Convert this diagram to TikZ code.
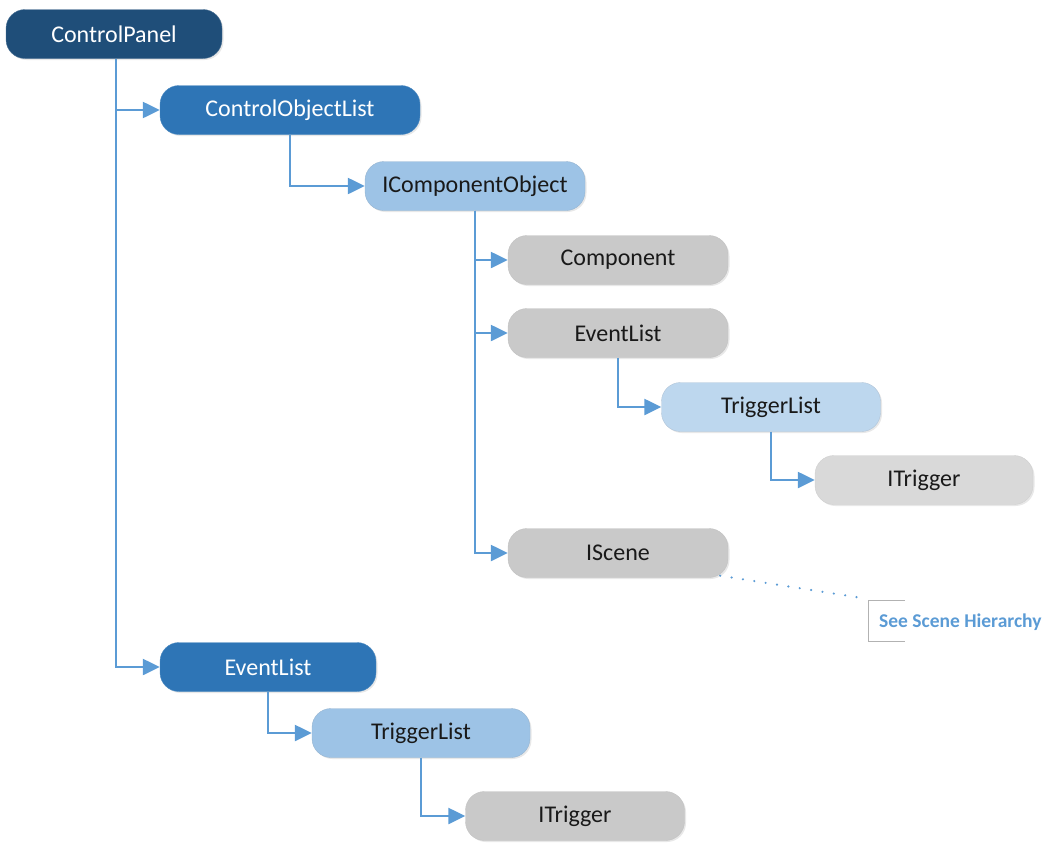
\documentclass[tikz,border=0pt]{standalone}
\usepackage{fontspec}
\setmainfont{Carlito}
\usetikzlibrary{arrows.meta,shadows}
\definecolor{navy}{HTML}{1F4E79}
\definecolor{midblue}{HTML}{2E75B6}
\definecolor{lightblue}{HTML}{9DC3E6}
\definecolor{paleblue}{HTML}{BDD7EE}
\definecolor{greyA}{HTML}{C9C9C9}
\definecolor{greyB}{HTML}{D9D9D9}
\definecolor{linkblue}{HTML}{5B9BD5}
\tikzset{
  box/.style={rounded corners=19pt, minimum width=218pt, minimum height=49pt,
    inner sep=0pt, font=\fontsize{24}{26}\selectfont,
    drop shadow={opacity=0.18, shadow xshift=1.5pt, shadow yshift=-1.5pt}},
  darkbox/.style={box, fill=navy, draw=navy!80!white, text=white},
  midbox/.style={box, fill=midblue, draw=midblue!85!white, text=white},
  lightbox/.style={box, fill=lightblue, draw=lightblue!80!gray, text=black!90},
  palebox/.style={box, fill=paleblue, draw=paleblue!80!gray, text=black!90},
  greybox/.style={box, fill=greyA, draw=greyA!90!gray, text=black!90},
  greybox2/.style={box, fill=greyB, draw=greyB!90!gray, text=black!90},
  conn/.style={draw=linkblue, line width=2.4pt,
    -{Triangle[length=17pt,width=16pt]}}
}
\begin{document}
\begin{tikzpicture}[x=1pt,y=-1pt]
\useasboundingbox (0,0) rectangle (1047,844);
% nodes
\node[darkbox, minimum width=216pt] (cp) at (114,34) {ControlPanel};
\node[midbox, minimum width=260pt] (col) at (290,110) {ControlObjectList};
\node[lightbox, minimum width=220pt] (ico) at (475,186) {IComponentObject};
\node[greybox, minimum width=220pt] (comp) at (618,260) {Component};
\node[greybox, minimum width=220pt] (el1) at (618,333) {EventList};
\node[palebox, minimum width=219pt] (tl1) at (771,407) {TriggerList};
\node[greybox2, minimum width=218pt] (it1) at (924,480) {ITrigger};
\node[greybox, minimum width=220pt] (isc) at (618,553) {IScene};
\node[midbox, minimum width=216pt] (el2) at (268,667) {EventList};
\node[lightbox, minimum width=218pt] (tl2) at (421,733) {TriggerList};
\node[greybox, minimum width=219pt] (it2) at (575,816) {ITrigger};
% callout
\node[anchor=west, inner sep=0pt, text=linkblue,
  font=\fontsize{19.5}{22}\selectfont\bfseries] (ssh) at (879,622) {See Scene Hierarchy};
\coordinate (brtop) at (868,600);
\coordinate (brbot) at (868,641);
\draw[gray!60, line width=0.8pt] (905,600) -- (brtop) -- (brbot) -- (905,641);
\coordinate (dotend) at (862,598);
\draw[linkblue, line width=2.4pt, line cap=round, dash pattern=on 0pt off 11.5pt]
  (isc.south east) ++(-8,-2) coordinate (dotstart) -- (dotend);
% connectors
\coordinate (cpx) at (116,0);
\draw[conn] (cp.south -| cpx) |- (col.west);
\draw[conn] (cp.south -| cpx) |- (el2.west);
\coordinate (colx) at (290,0);
\draw[conn] (col.south -| colx) |- (ico.west);
\coordinate (icox) at (475,0);
\draw[conn] (ico.south -| icox) |- (comp.west);
\draw[conn] (ico.south -| icox) |- (el1.west);
\draw[conn] (ico.south -| icox) |- (isc.west);
\draw[conn] (el1.south) |- (tl1.west);
\coordinate (tl1x) at (771,0);
\draw[conn] (tl1.south -| tl1x) |- (it1.west);
\coordinate (el2x) at (268,0);
\draw[conn] (el2.south -| el2x) |- (tl2.west);
\coordinate (tl2x) at (421,0);
\draw[conn] (tl2.south -| tl2x) |- (it2.west);
\end{tikzpicture}
\end{document}
